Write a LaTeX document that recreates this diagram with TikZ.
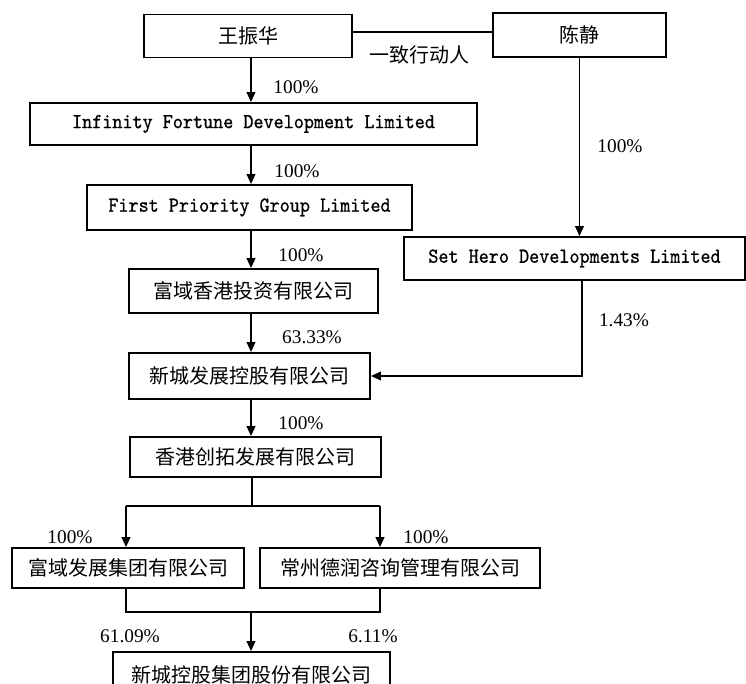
\documentclass[tikz,border=0pt]{standalone}
\usepackage{fontspec}
\setmainfont{Liberation Serif}
\newfontfamily\cjk{Noto Sans CJK SC}
\newfontfamily\enmono[FakeStretch=0.9, FakeBold=0.8]{lmmono10-regular.otf}
\usetikzlibrary{positioning, calc, arrows.meta}

\begin{document}
\begin{tikzpicture}[x=0.75pt, y=-0.75pt, line width=1.35pt,
    box/.style={rectangle, draw, inner sep=0pt, minimum height=32.25pt,
      font=\cjk\fontsize{15}{18}\selectfont},
    enbox/.style={box, font=\enmono\fontsize{16}{19}\selectfont},
    pct/.style={inner sep=0pt, font=\fontsize{14.5}{17}\selectfont},
    >={Triangle[length=7.5pt, width=6.5pt]}]

  \clip (0,0) rectangle (746,684);

  % owners
  \node[box, minimum width=156pt] (wang) at (248,36) {王振华};
  \node[box, minimum width=129.75pt, minimum height=33pt] (chen) at (579.5,35) {陈静};
  \node[inner sep=0pt, font=\cjk\fontsize{15}{18}\selectfont] (act) at (419,55) {一致行动人};

  % left chain
  \node[enbox, minimum width=335.25pt, minimum height=31.5pt] (inf) at (253.5,124) {Infinity Fortune Development Limited};
  \node[enbox, minimum width=243.75pt, minimum height=33.75pt] (fpg) at (249.5,207.5) {First Priority Group Limited};
  \node[enbox, minimum width=255.75pt] (shd) at (574.5,258.5) {Set Hero Developments Limited};
  \node[box, minimum width=186.75pt, minimum height=33pt] (fyhk) at (253.5,291) {富域香港投资有限公司};
  \node[box, minimum width=180.75pt, minimum height=34.5pt] (xcfz) at (249.5,376) {新城发展控股有限公司};
  \node[box, minimum width=188.25pt, minimum height=30pt] (hkct) at (255.5,457) {香港创拓发展有限公司};
  \node[box, minimum width=174pt, minimum height=30pt] (fyjt) at (128,568) {富域发展集团有限公司};
  \node[box, minimum width=210pt, minimum height=30pt] (czdr) at (400,568) {常州德润咨询管理有限公司};
  \node[box, minimum width=207.75pt, minimum height=34.5pt] (xckg) at (251.5,675) {新城控股集团股份有限公司};

  \coordinate (spine) at (251,0);
  \coordinate (split) at (252,506);
  \coordinate (bl) at (126,506);
  \coordinate (br) at (380,506);
  \coordinate (ml) at (126,612);
  \coordinate (mr) at (380,612);
  \coordinate (merge) at (251,612);

  % connectors
  \draw (wang.east |- 0,32) -- (chen.west |- 0,32);
  \draw[->] (wang.south -| spine) -- (inf.north -| spine);
  \draw[->] (inf.south -| spine) -- (fpg.north -| spine);
  \draw[->] (fpg.south -| spine) -- (fyhk.north -| spine);
  \draw[->] (fyhk.south -| spine) -- (xcfz.north -| spine);
  \draw[->] (xcfz.south -| spine) -- (hkct.north -| spine);
  \draw[->] (chen.south) -- (chen.south |- shd.north);
  \draw[->] (shd.south -| 582,0) |- (xcfz.east);
  \draw (hkct.south -| split) -- (split);
  \draw (bl) -- (br);
  \draw[->] (bl) -- (bl |- fyjt.north);
  \draw[->] (br) -- (br |- czdr.north);
  \draw (ml |- fyjt.south) -- (ml) -- (mr) -- (mr |- czdr.south);
  \draw[->] (merge) -- (merge |- xckg.north);

  % shares
  \node[pct] (p1) at (296,87) {100\%};
  \node[pct] (p2) at (297,171) {100\%};
  \node[pct] (p3) at (620,146) {100\%};
  \node[pct] (p4) at (301,255) {100\%};
  \node[pct] (p5) at (312,337) {63.33\%};
  \node[pct] (p6) at (624,320) {1.43\%};
  \node[pct] (p7) at (301,423) {100\%};
  \node[pct] (p8) at (70,537) {100\%};
  \node[pct] (p9) at (426,537) {100\%};
  \node[pct] (p10) at (130,636) {61.09\%};
  \node[pct] (p11) at (373,636) {6.11\%};
\end{tikzpicture}
\end{document}
